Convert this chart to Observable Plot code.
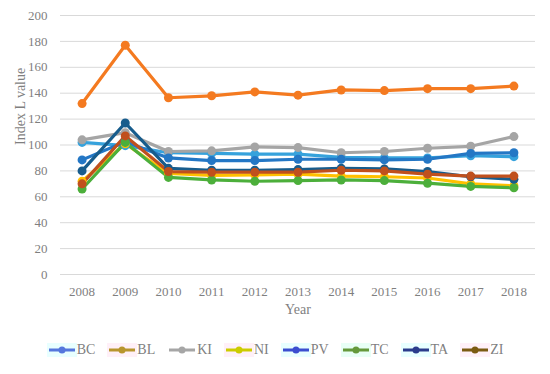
<!DOCTYPE html>
<html>
<head>
<meta charset="utf-8">
<script src="https://cdn.jsdelivr.net/npm/d3@7"></script>
<script src="https://cdn.jsdelivr.net/npm/@observablehq/plot@0.6"></script>
<style>
  html, body { margin: 0; padding: 0; background: #fff; }
  #chart { width: 550px; height: 374px; position: relative; font-family: "Liberation Serif", serif; }
  #legend { display: flex; justify-content: center; align-items: center; gap: 12px; margin-top: 12px; font-family: "Liberation Serif", serif; font-size: 14px; color: #7f7f7f; }
  .item { display: flex; align-items: center; }
  .swatch { padding: 0 1px; }
</style>
</head>
<body>
<div id="chart"></div>
<script>
const years = [2008, 2009, 2010, 2011, 2012, 2013, 2014, 2015, 2016, 2017, 2018];
const seriesNames = ["BC", "BL", "KI", "NI", "PV", "TC", "TA", "ZI"];
const BC = [102, 99.5, 94, 93.5, 93, 93, 90.5, 90, 90, 91.7, 91];
const BL = [132, 177, 136.5, 138, 141, 138.5, 142.5, 142, 143.5, 143.5, 145.5];
const KI = [104, 109.5, 95, 95.5, 98.5, 98, 94, 95, 97.5, 99, 106.5];
const NI = [72, 101, 78, 76.5, 77, 77.5, 76, 75.5, 74.5, 70, 68.5];
const PV = [88.5, 102.5, 90, 88, 88, 89, 89, 88.5, 89, 93.5, 94];
const TC = [66, 102, 75, 73, 72, 72.5, 73, 72.5, 70.5, 68, 67];
const TA = [80, 117, 82, 80.5, 80.5, 81, 82, 81.5, 79.5, 75.5, 73.5];
const ZI = [70, 107, 79.5, 79, 79, 79, 80.5, 80, 77.5, 76, 76];
const yTicks = [0, 20, 40, 60, 80, 100, 120, 140, 160, 180, 200];
const lineColors = ["#36a2dc", "#f47a20", "#a5a5a5", "#ffc000", "#2477c5", "#4caf3b", "#175c8c", "#c0501d"];
const legendColors = ["#5577dd", "#b8962e", "#a6a6a6", "#cccc00", "#3b4ed0", "#65993b", "#2b3c8c", "#7b5b12"];
const legendTints = ["#e8ffff", "#fff0f8", "#ffffff", "#fff0f8", "#e8ffff", "#e8fff6", "#e8ffff", "#fff0f8"];
const valuesBySeries = [BC, BL, KI, NI, PV, TC, TA, ZI];

const data = [];
seriesNames.forEach((s, i) => {
  valuesBySeries[i].forEach((v, j) => data.push({series: s, year: years[j], value: v}));
});

const chart = Plot.plot({
  width: 550,
  height: 330,
  marginLeft: 60,
  marginRight: 15,
  marginTop: 15,
  marginBottom: 56,
  style: {fontFamily: "Liberation Serif, serif", fontSize: "13px", color: "#7f7f7f", background: "#fff"},
  x: {domain: [2007.5, 2018.5], label: null},
  y: {domain: [0, 200], label: null},
  color: {domain: seriesNames, range: lineColors},
  marks: [
    Plot.ruleY(yTicks, {stroke: "#d9d9d9", strokeWidth: 1}),
    Plot.axisX({ticks: years, tickFormat: d => String(d), tickSize: 0, tickPadding: 12, label: null, fontSize: 13}),
    Plot.axisY({ticks: yTicks, tickSize: 0, tickPadding: 13, label: null, fontSize: 13}),
    Plot.line(data, {x: "year", y: "value", z: "series", stroke: "series", strokeWidth: 3.2, strokeLinejoin: "round"}),
    Plot.dot(data, {x: "year", y: "value", fill: "series", r: 4.5}),
    Plot.text(["Year"], {frameAnchor: "bottom", dy: 39, fontSize: 14, fill: "#7f7f7f"}),
    Plot.text(["Index L value"], {frameAnchor: "left", dx: -40, rotate: -90, fontSize: 14, fill: "#7f7f7f"})
  ]
});
document.getElementById("chart").appendChild(chart);

const legend = document.createElement("div");
legend.id = "legend";
seriesNames.forEach((s, i) => {
  const item = document.createElement("div");
  item.className = "item";
  const sw = d3.create("svg").attr("width", 28).attr("height", 14).attr("class", "swatch")
    .style("background", legendTints[i]);
  sw.append("line").attr("x1", 1).attr("x2", 27).attr("y1", 7).attr("y2", 7)
    .attr("stroke", legendColors[i]).attr("stroke-width", 3);
  sw.append("circle").attr("cx", 14).attr("cy", 7).attr("r", 3.5).attr("fill", legendColors[i]);
  item.appendChild(sw.node());
  const t = document.createElement("span");
  t.textContent = s;
  item.appendChild(t);
  legend.appendChild(item);
});
document.getElementById("chart").appendChild(legend);
</script>
</body>
</html>
